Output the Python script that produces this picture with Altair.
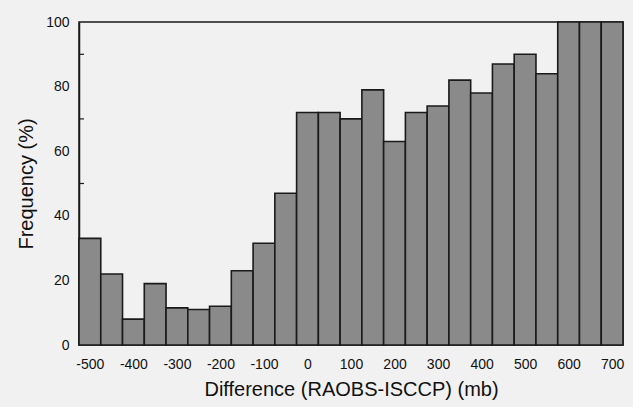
import altair as alt
import pandas as pd

centers = [-500, -450, -400, -350, -300, -250, -200, -150, -100, -50, 0, 50, 100,
           150, 200, 250, 300, 350, 400, 450, 500, 550, 600, 650, 700]
freq = [33, 22, 8, 19, 11.5, 11, 12, 23, 31.5, 47, 72, 72, 70, 79, 63, 72, 74,
        82, 78, 87, 90, 84, 100, 100, 100]
x_ticks = [-500, -400, -300, -200, -100, 0, 100, 200, 300, 400, 500, 600, 700]
y_ticks = [0, 20, 40, 60, 80, 100]
minor_ticks = [10, 30, 50, 70, 90]

half = 25
df = pd.DataFrame({"start": [c - half for c in centers],
                   "end": [c + half for c in centers],
                   "freq": freq})
minor = pd.DataFrame({"v": minor_ticks})

font = "Liberation Sans"
xscale = alt.Scale(domain=[-525, 725], nice=False, zero=False)
yscale = alt.Scale(domain=[0, 100], nice=False)

bars = alt.Chart(df).mark_rect(color="#8a8a8a", stroke="#1a1a1a", strokeWidth=1.6).encode(
    x=alt.X("start:Q", scale=xscale,
            axis=alt.Axis(values=x_ticks, title="Difference (RAOBS-ISCCP) (mb)",
                          labelExpr="'' + datum.value",
                          ticks=False, domain=False, grid=False, labelPadding=12,
                          labelFontSize=14, labelColor="#111", titleFontSize=20,
                          titleFontWeight="normal", titleColor="#111", titlePadding=8,
                          labelFont=font, titleFont=font, labelFlush=False)),
    x2="end:Q",
    y=alt.Y("freq:Q", scale=yscale,
            axis=alt.Axis(values=y_ticks, title="Frequency (%)", ticks=False,
                          domainColor="#1a1a1a", domainWidth=1.5, grid=False,
                          labelPadding=10, labelFontSize=14, labelColor="#111",
                          titleFontSize=20, titleFontWeight="normal", titleColor="#111",
                          titlePadding=9, labelFont=font, titleFont=font)),
    y2=alt.datum(0),
)

ticks = alt.Chart(minor).mark_rule(color="#1a1a1a", strokeWidth=1.2).encode(
    y=alt.Y("v:Q", scale=yscale),
    x=alt.value(0),
    x2=alt.value(5),
)

chart = alt.layer(ticks, bars).properties(
    width=544, height=323,
    padding={"left": 79, "top": 22, "right": 10, "bottom": 62},
    autosize="none",
    background="#f1f1f1",
).configure_view(stroke="#1a1a1a", strokeWidth=1.5, fill="#f1f1f1")

chart.save("out.html", embed_options={"renderer": "svg", "actions": False})
